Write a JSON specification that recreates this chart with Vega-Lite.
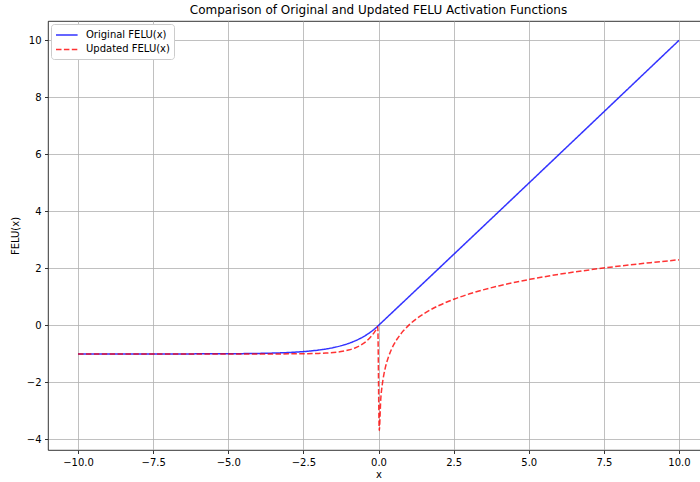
{
  "$schema": "https://vega.github.io/schema/vega-lite/v6.json",
  "autosize": "none",
  "width": 661,
  "height": 429,
  "padding": {"left": 48, "top": 21, "right": 0, "bottom": 32},
  "background": "white",
  "title": {"text": "Comparison of Original and Updated FELU Activation Functions", "fontSize": 12, "fontWeight": "normal", "font": "DejaVu Sans", "color": "black", "anchor": "middle", "offset": 4, "frame": "group"},
  "config": {
    "font": "DejaVu Sans",
    "view": {"stroke": "black", "strokeWidth": 0.8},
    "axis": {
      "domain": false,
      "grid": true,
      "gridColor": "#b0b0b0",
      "gridWidth": 0.8,
      "tickColor": "black",
      "tickSize": 3.5,
      "tickWidth": 0.8,
      "labelFont": "DejaVu Sans",
      "labelFontSize": 10,
      "labelColor": "black",
      "titleFont": "DejaVu Sans",
      "titleFontSize": 10,
      "titleFontWeight": "normal",
      "titleColor": "black",
      "labelPadding": 3.5
    },
    "legend": {
      "labelFont": "DejaVu Sans",
      "labelFontSize": 10,
      "labelColor": "black"
    }
  },
  "data": {
    "values": [
      {"x": -10, "y": -0.99995, "series": "Original FELU(x)"},
      {"x": -8, "y": -0.99966, "series": "Original FELU(x)"},
      {"x": -6, "y": -0.99752, "series": "Original FELU(x)"},
      {"x": -5, "y": -0.99326, "series": "Original FELU(x)"},
      {"x": -4, "y": -0.98168, "series": "Original FELU(x)"},
      {"x": -3.5, "y": -0.9698, "series": "Original FELU(x)"},
      {"x": -3, "y": -0.95021, "series": "Original FELU(x)"},
      {"x": -2.5, "y": -0.91792, "series": "Original FELU(x)"},
      {"x": -2, "y": -0.86466, "series": "Original FELU(x)"},
      {"x": -1.75, "y": -0.82623, "series": "Original FELU(x)"},
      {"x": -1.5, "y": -0.77687, "series": "Original FELU(x)"},
      {"x": -1.25, "y": -0.7135, "series": "Original FELU(x)"},
      {"x": -1, "y": -0.63212, "series": "Original FELU(x)"},
      {"x": -0.8, "y": -0.55067, "series": "Original FELU(x)"},
      {"x": -0.6, "y": -0.45119, "series": "Original FELU(x)"},
      {"x": -0.5, "y": -0.39347, "series": "Original FELU(x)"},
      {"x": -0.4, "y": -0.32968, "series": "Original FELU(x)"},
      {"x": -0.3, "y": -0.25918, "series": "Original FELU(x)"},
      {"x": -0.2, "y": -0.18127, "series": "Original FELU(x)"},
      {"x": -0.1, "y": -0.09516, "series": "Original FELU(x)"},
      {"x": -0.0251, "y": -0.02479, "series": "Original FELU(x)"},
      {"x": 0.0251, "y": 0.0251, "series": "Original FELU(x)"},
      {"x": 10, "y": 10, "series": "Original FELU(x)"},
      {"x": -10, "y": -1.0, "series": "Updated FELU(x)"},
      {"x": -8, "y": -1.0, "series": "Updated FELU(x)"},
      {"x": -6, "y": -0.99999, "series": "Updated FELU(x)"},
      {"x": -5, "y": -0.99995, "series": "Updated FELU(x)"},
      {"x": -4, "y": -0.99966, "series": "Updated FELU(x)"},
      {"x": -3, "y": -0.99752, "series": "Updated FELU(x)"},
      {"x": -2.5, "y": -0.99326, "series": "Updated FELU(x)"},
      {"x": -2, "y": -0.98168, "series": "Updated FELU(x)"},
      {"x": -1.75, "y": -0.9698, "series": "Updated FELU(x)"},
      {"x": -1.5, "y": -0.95021, "series": "Updated FELU(x)"},
      {"x": -1.25, "y": -0.91792, "series": "Updated FELU(x)"},
      {"x": -1, "y": -0.86466, "series": "Updated FELU(x)"},
      {"x": -0.8, "y": -0.7981, "series": "Updated FELU(x)"},
      {"x": -0.6, "y": -0.69881, "series": "Updated FELU(x)"},
      {"x": -0.5, "y": -0.63212, "series": "Updated FELU(x)"},
      {"x": -0.4, "y": -0.55067, "series": "Updated FELU(x)"},
      {"x": -0.3, "y": -0.45119, "series": "Updated FELU(x)"},
      {"x": -0.2, "y": -0.32968, "series": "Updated FELU(x)"},
      {"x": -0.15, "y": -0.25918, "series": "Updated FELU(x)"},
      {"x": -0.1, "y": -0.18127, "series": "Updated FELU(x)"},
      {"x": -0.05, "y": -0.09516, "series": "Updated FELU(x)"},
      {"x": -0.0251, "y": -0.04896, "series": "Updated FELU(x)"},
      {"x": 0.0251, "y": -3.6849, "series": "Updated FELU(x)"},
      {"x": 0.0752, "y": -2.5876, "series": "Updated FELU(x)"},
      {"x": 0.1253, "y": -2.0771, "series": "Updated FELU(x)"},
      {"x": 0.1754, "y": -1.7407, "series": "Updated FELU(x)"},
      {"x": 0.2256, "y": -1.489, "series": "Updated FELU(x)"},
      {"x": 0.2757, "y": -1.2884, "series": "Updated FELU(x)"},
      {"x": 0.3258, "y": -1.1215, "series": "Updated FELU(x)"},
      {"x": 0.4261, "y": -0.8531, "series": "Updated FELU(x)"},
      {"x": 0.5263, "y": -0.6419, "series": "Updated FELU(x)"},
      {"x": 0.6266, "y": -0.4675, "series": "Updated FELU(x)"},
      {"x": 0.7268, "y": -0.3191, "series": "Updated FELU(x)"},
      {"x": 0.8271, "y": -0.1898, "series": "Updated FELU(x)"},
      {"x": 1.0276, "y": 0.0272, "series": "Updated FELU(x)"},
      {"x": 1.2281, "y": 0.2055, "series": "Updated FELU(x)"},
      {"x": 1.5288, "y": 0.4245, "series": "Updated FELU(x)"},
      {"x": 2.0301, "y": 0.7081, "series": "Updated FELU(x)"},
      {"x": 2.5313, "y": 0.9287, "series": "Updated FELU(x)"},
      {"x": 3.0326, "y": 1.1094, "series": "Updated FELU(x)"},
      {"x": 4.0351, "y": 1.395, "series": "Updated FELU(x)"},
      {"x": 5.0376, "y": 1.6169, "series": "Updated FELU(x)"},
      {"x": 6.0401, "y": 1.7984, "series": "Updated FELU(x)"},
      {"x": 7.0426, "y": 1.952, "series": "Updated FELU(x)"},
      {"x": 8.0451, "y": 2.085, "series": "Updated FELU(x)"},
      {"x": 9.0476, "y": 2.2025, "series": "Updated FELU(x)"},
      {"x": 10, "y": 2.3026, "series": "Updated FELU(x)"}
    ]
  },
  "mark": {"type": "line", "strokeWidth": 1.5, "opacity": 0.8, "interpolate": "monotone"},
  "encoding": {
    "x": {"field": "x", "type": "quantitative", "title": "x",
      "scale": {"domain": [-11, 11], "nice": false, "zero": false},
      "axis": {"values": [-10, -7.5, -5, -2.5, 0, 2.5, 5, 7.5, 10], "format": ".1f", "titlePadding": 2}},
    "y": {"field": "y", "type": "quantitative", "title": "FELU(x)",
      "scale": {"domain": [-4.37, 10.68], "nice": false, "zero": false},
      "axis": {"values": [-4, -2, 0, 2, 4, 6, 8, 10], "format": "d", "titlePadding": 6}},
    "color": {"field": "series", "type": "nominal", "title": null,
      "scale": {"domain": ["Original FELU(x)", "Updated FELU(x)"], "range": ["#0000ff", "#ff0000"]},
      "legend": {"orient": "top-left", "offset": 3, "fillColor": "white", "strokeColor": "#cccccc", "cornerRadius": 3, "padding": 4, "symbolType": "M-1,0H2.6", "symbolSize": 144, "symbolStrokeWidth": 1.5, "symbolOpacity": 0.8, "rowPadding": 2.4, "labelOffset": 17}},
    "strokeDash": {"field": "series", "type": "nominal", "title": null,
      "scale": {"domain": ["Original FELU(x)", "Updated FELU(x)"], "range": [[1, 0], [5.5, 2.4]]},
      "legend": {"orient": "top-left", "offset": 3, "fillColor": "white", "strokeColor": "#cccccc", "cornerRadius": 3, "padding": 4, "symbolType": "M-1,0H2.6", "symbolSize": 144, "symbolStrokeWidth": 1.5, "symbolOpacity": 0.8, "rowPadding": 2.4, "labelOffset": 17}}
  }
}
